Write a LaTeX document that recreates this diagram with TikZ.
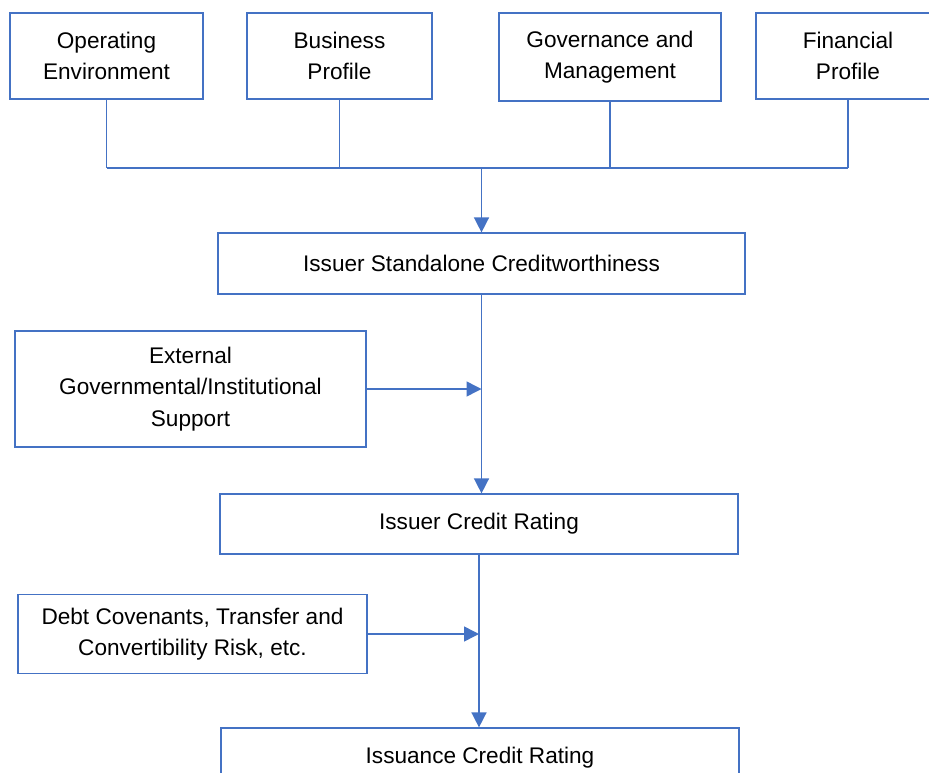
\documentclass[tikz,border=0pt]{standalone}
\usepackage{fontspec}
\setmainfont{Liberation Sans}
\usetikzlibrary{arrows.meta}
\definecolor{lineblue}{HTML}{4472C4}
\tikzset{box/.style={draw=lineblue,line width=1.2pt,align=center,inner sep=0pt,
   font=\fontsize{22.6}{31.5}\selectfont},
 link/.style={draw=lineblue,line width=1.5pt},
 arrow/.style={link,-{Triangle[length=15pt,width=15pt]}},
 }

\begin{document}
\begin{tikzpicture}[x=1pt,y=-1pt]
        \useasboundingbox (0,0) rectangle (929,773);
        % factors
        \node[box,minimum width=193pt,minimum height=86pt] (oper) at (106.5,56) {Operating\\Environment};
        \node[box,minimum width=185pt,minimum height=86pt] (busi) at (339.5,56) {Business\\Profile};
        \node[box,minimum width=222pt,minimum height=88pt] (gove) at (610,57) {Governance and\\Management};
        \node[box,minimum width=184pt,minimum height=86pt] (fina) at (848,56) {Financial\\Profile};
        % ratings chain
        \node[box,minimum width=527pt,minimum height=61pt] (stand) at (481.5,263.5) {Issuer Standalone Creditworthiness};
        \node[box,minimum width=351pt,minimum height=116pt] (exte) at (190.5,389) {External\\Governmental/Institutional\\Support};
        \node[box,minimum width=518pt,minimum height=60pt] (icr) at (479,524) {Issuer Credit Rating};
        \node[box,minimum width=349pt,minimum height=79pt] (debt) at (192.5,634) {Debt Covenants, Transfer and\\Convertibility Risk, etc.};
        \node[box,minimum width=518pt,minimum height=60pt] (isr) at (480,758) {Issuance Credit Rating};
        % bus
        \coordinate (busl) at (107,168);
        \foreach \n in {oper,busi,gove,fina}
            \draw[link] (\n.south) -- (\n.south |- busl);
        \draw[link] (oper.south |- busl) -- (fina.south |- busl);
        \draw[arrow] (stand.north |- busl) -- (stand.north);
        % main line
        \draw[arrow] (stand.south) -- (stand.south |- icr.north);
        \draw[arrow] (exte.east) -- (exte.east -| stand.south);
        \draw[arrow] (icr.south) -- (icr.south |- isr.north);
        \draw[arrow] (debt.east) -- (debt.east -| icr.south);
    \end{tikzpicture}
\end{document}
